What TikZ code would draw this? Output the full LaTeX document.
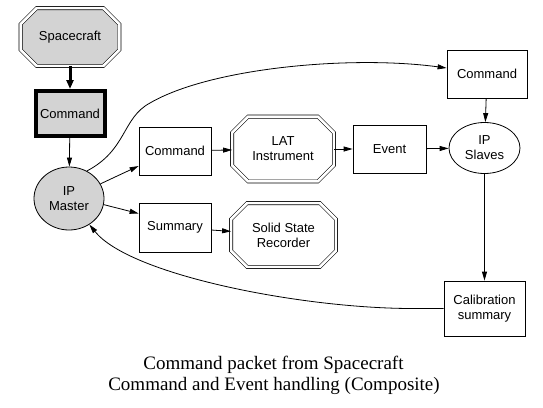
\documentclass[tikz,border=0pt]{standalone}
\usepackage{fontspec}
\setmainfont{Liberation Serif}
\setsansfont{Liberation Sans}
\usepackage{xcolor}
\usepackage{tikz}
\usetikzlibrary{shapes.geometric, arrows.meta, positioning}
\definecolor{gvgray}{HTML}{D3D3D3}

% double octagon drawn round a plain node: \octoutline[style]{node}{chamfer}
\newcommand{\octoutline}[3][]{%
  \draw[octline, #1] ([xshift=#3]#2.north west) -- ([xshift=-#3]#2.north east)
    -- ([yshift=-#3]#2.north east) -- ([yshift=#3]#2.south east)
    -- ([xshift=-#3]#2.south east) -- ([xshift=#3]#2.south west)
    -- ([yshift=#3]#2.south west) -- ([yshift=-#3]#2.north west) -- cycle;}

\begin{document}
\begin{tikzpicture}[
  x=1pt, y=-1pt,
  every node/.style={font=\sffamily\fontsize{13}{15}\selectfont, align=center, inner sep=0pt},
  box/.style={rectangle, draw, line width=0.8pt, minimum width=72pt, minimum height=48pt},
  octo/.style={rectangle, outer sep=1.9pt},
  octline/.style={line width=0.6pt, double, double distance=2.6pt, line join=miter},
  blob/.style={ellipse, draw, line width=0.8pt},
  arrow/.style={-{Triangle[length=9pt,width=5pt]}, line width=0.8pt},
  caption/.style={font=\fontsize{19}{21}\selectfont, anchor=base},
]
\useasboundingbox (0,0) rectangle (543,407);

\node[octo, minimum width=95pt, minimum height=54pt] (sc) at (70,37) {};
\octoutline[fill=gvgray]{sc}{16pt}
\node at (sc) {Spacecraft};
\node[box, fill=gvgray, line width=4pt, minimum width=69pt, minimum height=45pt] (cmd) at (70,113.5) {Command};
\node[blob, fill=gvgray, minimum width=70pt, minimum height=63pt] (master) at (69,198.5) {IP\\Master};

\node[box] (cmdlat) at (175,151) {Command};
\node[octo, minimum width=98pt, minimum height=61pt] (lat) at (283,149) {LAT\\Instrument};
\octoutline{lat}{16pt}
\node[box, minimum width=73pt] (event) at (389.5,149) {Event};
\node[blob, minimum width=71pt, minimum height=51pt] (slaves) at (484.5,148) {IP\\Slaves};
\node[box, minimum width=80pt] (cmdslv) at (487,74) {Command};
\node[box, minimum width=81pt, minimum height=55pt] (calib) at (484.5,308.5) {Calibration\\summary};

\node[box, minimum height=49pt] (summary) at (175,227.5) {Summary};
\node[octo, minimum width=101pt, minimum height=60pt] (ssr) at (283.5,235) {Solid State\\Recorder};
\octoutline{ssr}{16pt}

\node[caption] (title) at (273.5,369) {Command packet from Spacecraft};
\node[caption] (subtitle) at (274,390) {Command and Event handling (Composite)};

\draw[-{Triangle[length=9pt,width=7pt]}, line width=3pt] (sc) -- (cmd);
\draw[arrow] (cmd) -- (master);
\draw[arrow] (master.25) -- ([yshift=-15pt]cmdlat.west);
\draw[arrow] (master.-10) -- ([yshift=14pt]summary.west);
\draw[arrow] (cmdlat) -- (lat);
\draw[arrow] (lat) -- (event);
\draw[arrow] (event) -- (slaves);
\draw[arrow] (cmdslv) -- (slaves);
\draw[arrow] (slaves) -- (calib);
\draw[arrow] (summary) -- (ssr);
\draw[arrow] (master.57) .. controls (127,150) and (122,118) .. (150,103)
  .. controls (210,68) and (350,55) .. ([yshift=6pt]cmdslv.west);
\draw[arrow] (calib.west) -- (410,308.5) .. controls (300,308) and (130,275) .. (master.-52);

\end{tikzpicture}
\end{document}
